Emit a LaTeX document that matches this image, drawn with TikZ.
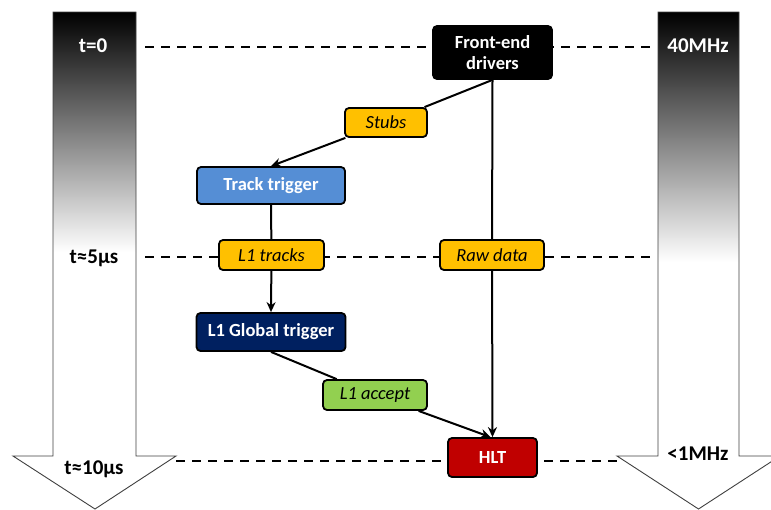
\documentclass[tikz,border=0pt]{standalone}
\usepackage{fontspec}
\setmainfont{Carlito}
\usetikzlibrary{arrows.meta}
\definecolor{orangebox}{HTML}{FFC000}
\definecolor{bluebox}{HTML}{558ED5}
\definecolor{navybox}{HTML}{002060}
\definecolor{greenbox}{HTML}{92D050}
\definecolor{redbox}{HTML}{C00000}
\tikzset{
  box/.style={draw=black, line width=1.8pt, rounded corners=4pt, inner sep=0pt, align=center,
    font=\fontsize{18.5}{21}\selectfont\bfseries, text=white},
  lbl/.style={draw=black, line width=1.8pt, rounded corners=4pt, inner sep=0pt,
    minimum width=104pt, minimum height=30pt, font=\fontsize{18.5}{21}\selectfont\itshape, text=black},
  conn/.style={line width=2pt, black},
  tip/.style={-{Stealth[length=10pt,width=9pt]}},
  timeline/.style={line width=2pt, dash pattern=on 9pt off 7pt},
  bigarrow/.style={draw=black!75, line width=0.9pt},
  ttext/.style={font=\fontsize{21}{24}\selectfont\bfseries}
}
\begin{document}
\begin{tikzpicture}[x=1pt,y=-1pt]
\useasboundingbox (0,0) rectangle (771,509);
% big arrows
\fill[white] (53,12) -- (136,12) -- (136,456) -- (176,456) -- (95,509) -- (13,456) -- (53,456) -- cycle;
\shade[top color=black, bottom color=white] (53,12) rectangle (136,252);
\draw[bigarrow] (53,12) -- (136,12) -- (136,456) -- (176,456) -- (95,509) -- (13,456) -- (53,456) -- cycle;
\fill[white] (658,12) -- (739,12) -- (739,456) -- (780,456) -- (698.5,509) -- (617,456) -- (658,456) -- cycle;
\shade[top color=black, bottom color=white] (658,12) rectangle (739,262);
\draw[bigarrow] (658,12) -- (739,12) -- (739,456) -- (780,456) -- (698.5,509) -- (617,456) -- (658,456) -- cycle;
\node[ttext, text=white] (t0) at (93,46) {t=0};
\node[ttext] (t5) at (94,258) {t≈5μs};
\node[ttext] (t10) at (94,469) {t≈10μs};
\node[ttext, text=white] (f40) at (698,46) {40MHz};
\node[ttext] (f1) at (698,454) {<1MHz};
% timelines
\coordinate (a1) at (145,47); \coordinate (a2) at (650,47);
\coordinate (b1) at (145,257); \coordinate (b2) at (650,257);
\coordinate (c1) at (176,461); \coordinate (c2) at (617,461);
\draw[timeline] (a1) -- (a2);
\draw[timeline] (b1) -- (b2);
\draw[timeline] (c1) -- (c2);
% nodes
\node[box, fill=black, minimum width=119pt, minimum height=53pt] (fe) at (492.5,52.5) {Front-end\\drivers};
\node[lbl, fill=orangebox, minimum width=82pt, minimum height=29pt] (stubs) at (386,122.5) {Stubs};
\node[box, fill=bluebox, minimum width=148pt, minimum height=37pt] (tt) at (271,185.5) {Track trigger};
\node[lbl, fill=orangebox, minimum width=105pt] (l1t) at (271.5,255) {L1 tracks};
\node[lbl, fill=orangebox] (raw) at (492,255) {Raw data};
\node[box, fill=navybox, minimum width=149pt, minimum height=38pt] (gt) at (271,332) {L1 Global trigger};
\node[lbl, fill=greenbox] (acc) at (375,395) {L1 accept};
\node[box, fill=redbox, minimum width=89pt, minimum height=39pt] (hlt) at (492.5,457.5) {HLT};
% connectors
\draw[conn] (fe.south) -- (stubs);
\draw[conn, tip] (stubs) -- (tt.north);
\draw[conn] (tt.south) -- (l1t);
\draw[conn, tip] (l1t) -- (gt.north);
\draw[conn] (fe.south) -- (raw);
\draw[conn, tip] (raw) -- (hlt.north);
\draw[conn] (gt.south) -- (acc);
\draw[conn, tip] (acc) -- ([xshift=-2pt]hlt.north);
\end{tikzpicture}
\end{document}
